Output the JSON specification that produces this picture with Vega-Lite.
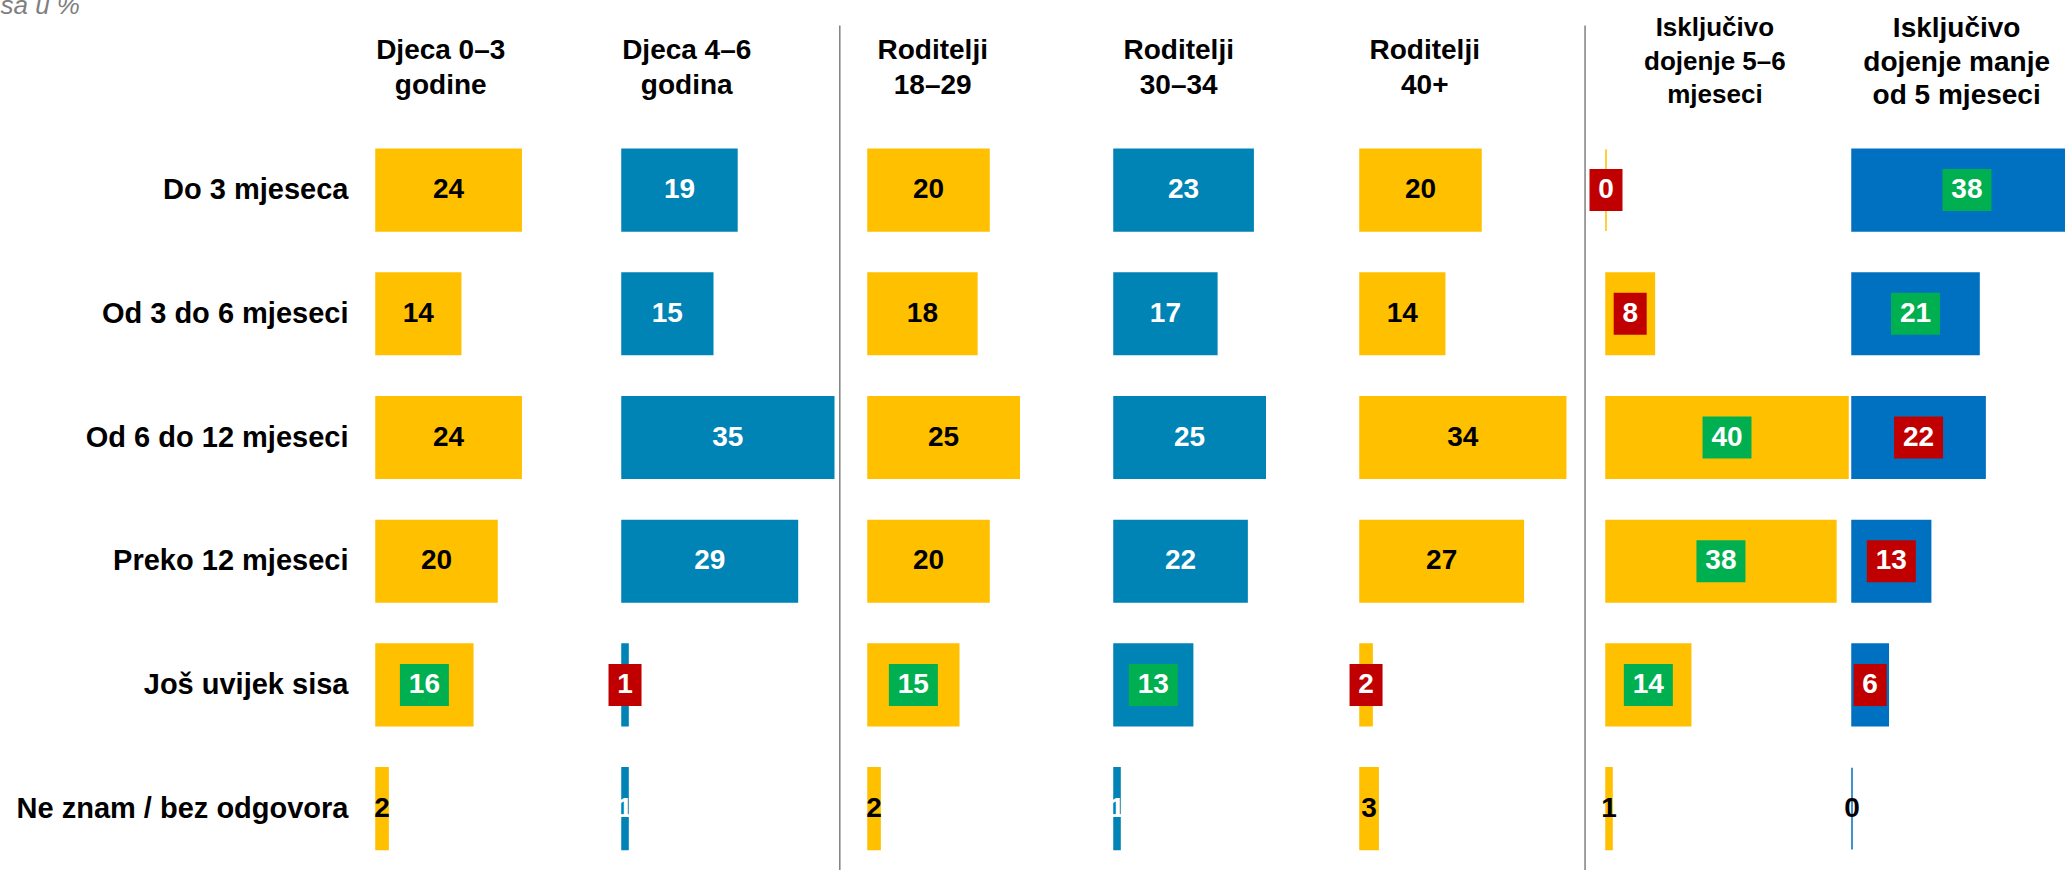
{
  "$schema": "https://vega.github.io/schema/vega-lite/v6.json",
  "padding": {"left": 0, "top": -8, "right": -29, "bottom": 0},
  "background": "white",
  "bounds": "flush",
  "config": {"view": {"stroke": null}, "font": "Liberation Sans"},
  "data": {
    "values": [
      {"col": "Djeca 0–3 godine", "row": "hdr", "title": "Djeca 0–3\ngodine"},
      {"col": "Djeca 4–6 godina", "row": "hdr", "title": "Djeca 4–6\ngodina"},
      {"col": "Roditelji 18–29", "row": "hdr", "title": "Roditelji\n18–29"},
      {"col": "Roditelji 30–34", "row": "hdr", "title": "Roditelji\n30–34"},
      {"col": "Roditelji 40+", "row": "hdr", "title": "Roditelji\n40+"},
      {"col": "Isključivo dojenje 5–6 mjeseci", "row": "hdr", "title": "Isključivo\ndojenje 5–6\nmjeseci"},
      {"col": "Isključivo dojenje manje od 5 mjeseci", "row": "hdr", "title": "Isključivo\ndojenje manje\nod 5 mjeseci"},

      {"col": "Djeca 0–3 godine", "row": "Do 3 mjeseca", "value": 24},
      {"col": "Djeca 0–3 godine", "row": "Od 3 do 6 mjeseci", "value": 14},
      {"col": "Djeca 0–3 godine", "row": "Od 6 do 12 mjeseci", "value": 24},
      {"col": "Djeca 0–3 godine", "row": "Preko 12 mjeseci", "value": 20},
      {"col": "Djeca 0–3 godine", "row": "Još uvijek sisa", "value": 16, "sig": "higher"},
      {"col": "Djeca 0–3 godine", "row": "Ne znam / bez odgovora", "value": 2},

      {"col": "Djeca 4–6 godina", "row": "Do 3 mjeseca", "value": 19},
      {"col": "Djeca 4–6 godina", "row": "Od 3 do 6 mjeseci", "value": 15},
      {"col": "Djeca 4–6 godina", "row": "Od 6 do 12 mjeseci", "value": 35},
      {"col": "Djeca 4–6 godina", "row": "Preko 12 mjeseci", "value": 29},
      {"col": "Djeca 4–6 godina", "row": "Još uvijek sisa", "value": 1, "sig": "lower"},
      {"col": "Djeca 4–6 godina", "row": "Ne znam / bez odgovora", "value": 1},

      {"col": "Roditelji 18–29", "row": "Do 3 mjeseca", "value": 20},
      {"col": "Roditelji 18–29", "row": "Od 3 do 6 mjeseci", "value": 18},
      {"col": "Roditelji 18–29", "row": "Od 6 do 12 mjeseci", "value": 25},
      {"col": "Roditelji 18–29", "row": "Preko 12 mjeseci", "value": 20},
      {"col": "Roditelji 18–29", "row": "Još uvijek sisa", "value": 15, "sig": "higher"},
      {"col": "Roditelji 18–29", "row": "Ne znam / bez odgovora", "value": 2},

      {"col": "Roditelji 30–34", "row": "Do 3 mjeseca", "value": 23},
      {"col": "Roditelji 30–34", "row": "Od 3 do 6 mjeseci", "value": 17},
      {"col": "Roditelji 30–34", "row": "Od 6 do 12 mjeseci", "value": 25},
      {"col": "Roditelji 30–34", "row": "Preko 12 mjeseci", "value": 22},
      {"col": "Roditelji 30–34", "row": "Još uvijek sisa", "value": 13, "sig": "higher"},
      {"col": "Roditelji 30–34", "row": "Ne znam / bez odgovora", "value": 1},

      {"col": "Roditelji 40+", "row": "Do 3 mjeseca", "value": 20},
      {"col": "Roditelji 40+", "row": "Od 3 do 6 mjeseci", "value": 14},
      {"col": "Roditelji 40+", "row": "Od 6 do 12 mjeseci", "value": 34},
      {"col": "Roditelji 40+", "row": "Preko 12 mjeseci", "value": 27},
      {"col": "Roditelji 40+", "row": "Još uvijek sisa", "value": 2, "sig": "lower"},
      {"col": "Roditelji 40+", "row": "Ne znam / bez odgovora", "value": 3},

      {"col": "Isključivo dojenje 5–6 mjeseci", "row": "Do 3 mjeseca", "value": 0, "sig": "lower"},
      {"col": "Isključivo dojenje 5–6 mjeseci", "row": "Od 3 do 6 mjeseci", "value": 8, "sig": "lower"},
      {"col": "Isključivo dojenje 5–6 mjeseci", "row": "Od 6 do 12 mjeseci", "value": 40, "sig": "higher"},
      {"col": "Isključivo dojenje 5–6 mjeseci", "row": "Preko 12 mjeseci", "value": 38, "sig": "higher"},
      {"col": "Isključivo dojenje 5–6 mjeseci", "row": "Još uvijek sisa", "value": 14, "sig": "higher"},
      {"col": "Isključivo dojenje 5–6 mjeseci", "row": "Ne znam / bez odgovora", "value": 1},

      {"col": "Isključivo dojenje manje od 5 mjeseci", "row": "Do 3 mjeseca", "value": 38, "sig": "higher"},
      {"col": "Isključivo dojenje manje od 5 mjeseci", "row": "Od 3 do 6 mjeseci", "value": 21, "sig": "higher"},
      {"col": "Isključivo dojenje manje od 5 mjeseci", "row": "Od 6 do 12 mjeseci", "value": 22, "sig": "lower"},
      {"col": "Isključivo dojenje manje od 5 mjeseci", "row": "Preko 12 mjeseci", "value": 13, "sig": "lower"},
      {"col": "Isključivo dojenje manje od 5 mjeseci", "row": "Još uvijek sisa", "value": 6, "sig": "lower"},
      {"col": "Isključivo dojenje manje od 5 mjeseci", "row": "Ne znam / bez odgovora", "value": 0}
    ]
  },
  "transform": [{"calculate": "datum.value / 2", "as": "mid"}],
  "facet": {
    "column": {
      "field": "col",
      "type": "nominal",
      "sort": ["Djeca 0–3 godine", "Djeca 4–6 godina", "Roditelji 18–29", "Roditelji 30–34", "Roditelji 40+", "Isključivo dojenje 5–6 mjeseci", "Isključivo dojenje manje od 5 mjeseci"],
      "header": {"labels": false, "title": null}
    }
  },
  "spacing": 4,
  "spec": {
    "width": 242,
    "height": 865,
    "layer": [
      {
        "transform": [{"filter": "datum.row != 'hdr'"}],
        "mark": {"type": "bar", "strokeWidth": 1.5},
        "encoding": {
          "x": {"field": "value", "type": "quantitative", "scale": {"domain": [0, 40], "nice": false, "zero": true}, "axis": null},
          "y": {
            "field": "row", "type": "nominal",
            "scale": {"domain": ["hdr", "Do 3 mjeseca", "Od 3 do 6 mjeseci", "Od 6 do 12 mjeseci", "Preko 12 mjeseci", "Još uvijek sisa", "Ne znam / bez odgovora"], "paddingInner": 0.34, "paddingOuter": 0.1665},
            "axis": {
              "title": "sa u %", "titleAngle": 0, "titleX": -376, "titleY": 8.3, "titleAlign": "left", "titleBaseline": "alphabetic",
              "titleFontSize": 26, "titleFontStyle": "italic", "titleFontWeight": "normal", "titleColor": "#7F7F7F", "titleFont": "Liberation Sans",
              "ticks": false, "domain": false, "grid": false, "labelFontSize": 29, "labelFontWeight": "bold", "labelColor": "#000000", "labelPadding": 28, "labelLimit": 700, "labelFont": "Liberation Sans",
              "labelExpr": "datum.value == 'hdr' ? '' : datum.value"
            }
          },
          "color": {
            "field": "col", "type": "nominal", "legend": null,
            "scale": {"domain": ["Djeca 0–3 godine", "Djeca 4–6 godina", "Roditelji 18–29", "Roditelji 30–34", "Roditelji 40+", "Isključivo dojenje 5–6 mjeseci", "Isključivo dojenje manje od 5 mjeseci"], "range": ["#FFC000", "#0083B5", "#FFC000", "#0083B5", "#FFC000", "#FFC000", "#0070C0"]}
          },
          "stroke": {
            "field": "col", "type": "nominal", "legend": null,
            "scale": {"domain": ["Djeca 0–3 godine", "Djeca 4–6 godina", "Roditelji 18–29", "Roditelji 30–34", "Roditelji 40+", "Isključivo dojenje 5–6 mjeseci", "Isključivo dojenje manje od 5 mjeseci"], "range": ["#FFC000", "#0083B5", "#FFC000", "#0083B5", "#FFC000", "#FFC000", "#0070C0"]}
          }
        }
      },
      {
        "transform": [{"filter": "datum.row == 'hdr' && datum.col == 'Djeca 4–6 godina'"}],
        "mark": {"type": "rule", "color": "#7F7F7F", "strokeWidth": 1.5},
        "encoding": {
          "x": {"datum": 36.0, "type": "quantitative"},
          "y": {"datum": "hdr", "type": "nominal", "bandPosition": 0},
          "y2": {"value": "height"}
        }
      },
      {
        "transform": [{"filter": "datum.row == 'hdr' && datum.col == 'Roditelji 40+'"}],
        "mark": {"type": "rule", "color": "#7F7F7F", "strokeWidth": 1.5},
        "encoding": {
          "x": {"datum": 37.2, "type": "quantitative"},
          "y": {"datum": "hdr", "type": "nominal", "bandPosition": 0},
          "y2": {"value": "height"}
        }
      },
      {
        "transform": [{"filter": "datum.sig != null && datum.value >= 10"}],
        "mark": {"type": "point", "shape": "M-1.1667,-1H1.1667V1H-1.1667Z", "filled": true, "opacity": 1, "size": 1764, "strokeWidth": 0},
        "encoding": {
          "x": {"field": "mid", "type": "quantitative"},
          "y": {"field": "row", "type": "nominal"},
          "fill": {"condition": {"test": "datum.sig == 'higher'", "value": "#00B050"}, "value": "#C00000"}
        }
      },
      {
        "transform": [{"filter": "datum.sig != null && datum.value < 10"}],
        "mark": {"type": "point", "shape": "M-0.786,-1H0.786V1H-0.786Z", "filled": true, "opacity": 1, "size": 1764, "strokeWidth": 0},
        "encoding": {
          "x": {"field": "mid", "type": "quantitative"},
          "y": {"field": "row", "type": "nominal"},
          "fill": {"condition": {"test": "datum.sig == 'higher'", "value": "#00B050"}, "value": "#C00000"}
        }
      },
      {
        "transform": [{"filter": "datum.row != 'hdr'"}],
        "mark": {"type": "text", "fontSize": 28, "fontWeight": "bold", "align": "center", "baseline": "middle", "font": "Liberation Sans"},
        "encoding": {
          "x": {"field": "mid", "type": "quantitative"},
          "y": {"field": "row", "type": "nominal"},
          "text": {"field": "value", "type": "quantitative", "format": "d"},
          "color": {"condition": [{"test": "datum.sig != null", "value": "#FFFFFF"}, {"test": "datum.col == 'Djeca 4–6 godina' || datum.col == 'Roditelji 30–34'", "value": "#FFFFFF"}], "value": "#000000"}
        }
      },
      {
        "transform": [{"filter": "datum.row == 'hdr' && indexof(['Djeca 0–3 godine', 'Djeca 4–6 godina', 'Roditelji 18–29', 'Roditelji 30–34', 'Roditelji 40+'], datum.col) >= 0"}],
        "mark": {"type": "text", "fontSize": 28, "fontWeight": "bold", "align": "center", "baseline": "alphabetic", "lineBreak": "\n", "lineHeight": 35, "dy": 33, "color": "#000000", "font": "Liberation Sans"},
        "encoding": {
          "x": {"datum": 10.7, "type": "quantitative"},
          "y": {"datum": "hdr", "type": "nominal", "bandPosition": 0},
          "text": {"field": "title", "type": "nominal"}
        }
      },
      {
        "transform": [{"filter": "datum.row == 'hdr' && datum.col == 'Isključivo dojenje 5–6 mjeseci'"}],
        "mark": {"type": "text", "fontSize": 26, "fontWeight": "bold", "align": "center", "baseline": "alphabetic", "lineBreak": "\n", "lineHeight": 33.5, "dy": 10.7, "color": "#000000", "font": "Liberation Sans"},
        "encoding": {
          "x": {"datum": 18, "type": "quantitative"},
          "y": {"datum": "hdr", "type": "nominal", "bandPosition": 0},
          "text": {"field": "title", "type": "nominal"}
        }
      },
      {
        "transform": [{"filter": "datum.row == 'hdr' && datum.col == 'Isključivo dojenje manje od 5 mjeseci'"}],
        "mark": {"type": "text", "fontSize": 28, "fontWeight": "bold", "align": "center", "baseline": "alphabetic", "lineBreak": "\n", "lineHeight": 33.5, "dy": 11.5, "color": "#000000", "font": "Liberation Sans"},
        "encoding": {
          "x": {"datum": 17.3, "type": "quantitative"},
          "y": {"datum": "hdr", "type": "nominal", "bandPosition": 0},
          "text": {"field": "title", "type": "nominal"}
        }
      }
    ]
  }
}
